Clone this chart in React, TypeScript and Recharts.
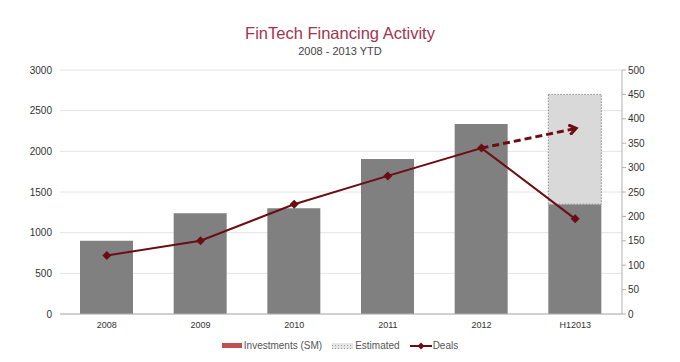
import React from 'react';
import {
  ComposedChart,
  Bar,
  Line,
  XAxis,
  YAxis,
  CartesianGrid,
} from 'recharts';

const PERIODS = ['2008', '2009', '2010', '2011', '2012', 'H12013'];
const INVESTMENTS = [900, 1240, 1300, 1905, 2335, 1350];
const ESTIMATED = [0, 0, 0, 0, 0, 1350];
const DEALS = [120, 150, 225, 283, 340, 195];
const EST_DEALS = [null, null, null, null, 340, 380];
const LEFT_TICKS = [0, 500, 1000, 1500, 2000, 2500, 3000];
const RIGHT_TICKS = [0, 50, 100, 150, 200, 250, 300, 350, 400, 450, 500];

const data = PERIODS.map((p, i) => ({
  period: p,
  investments: INVESTMENTS[i],
  estimated: ESTIMATED[i],
  deals: DEALS[i],
  estDeals: EST_DEALS[i],
}));

const FONT = '"Liberation Sans", Arial, sans-serif';
const DEAL_COLOR = '#6b0d13';

const Diamond = (props: any) => {
  const { cx, cy, index } = props;
  if (cx == null || cy == null) return <g key={`d-${index}`} />;
  const s = 4.5;
  return (
    <path
      key={`d-${index}`}
      d={`M${cx},${cy - s} L${cx + s},${cy} L${cx},${cy + s} L${cx - s},${cy} Z`}
      fill={DEAL_COLOR}
    />
  );
};

const App: React.FC = () => {
  return (
    <div style={{ position: 'absolute', left: 0, top: 0, width: 680, height: 362, background: '#fff', fontFamily: FONT }}>
      <svg width={0} height={0} style={{ position: 'absolute' }}>
        <defs>
          <marker id="arrowHead" markerWidth="12" markerHeight="12" refX="7" refY="6" orient="auto" markerUnits="userSpaceOnUse">
            <path d="M1,1 L8,6 L1,11" fill="none" stroke={DEAL_COLOR} strokeWidth={3} />
          </marker>
          <pattern id="dots" width="3" height="3" patternUnits="userSpaceOnUse">
            <rect width="3" height="3" fill="#e6e6e6" />
            <rect width="1" height="1" fill="#999" />
          </pattern>
        </defs>
      </svg>
      <div style={{ position: 'absolute', top: 24, width: 680, textAlign: 'center', fontSize: 16.5, color: '#a3344f' }}>
        FinTech Financing Activity
      </div>
      <div style={{ position: 'absolute', top: 45, width: 680, textAlign: 'center', fontSize: 11, color: '#444' }}>
        2008 - 2013 YTD
      </div>
      <ComposedChart
        width={680}
        height={362}
        data={data}
        margin={{ top: 70, right: 0, left: 0, bottom: 28 }}
        barSize={53}
      >
        <CartesianGrid yAxisId="left" vertical={false} stroke="#e4e4e4" />
        <XAxis
          dataKey="period"
          axisLine={{ stroke: '#b0b0b0' }}
          tickLine={false}
          height={20}
          tick={{ fontSize: 9, fill: '#333', fontFamily: FONT }}
        />
        <YAxis
          yAxisId="left"
          domain={[0, 3000]}
          ticks={LEFT_TICKS}
          width={60}
          axisLine={false}
          tickLine={false}
          tick={{ fontSize: 10, fill: '#333', fontFamily: FONT }}
        />
        <YAxis
          yAxisId="right"
          orientation="right"
          domain={[0, 500]}
          ticks={RIGHT_TICKS}
          width={58}
          axisLine={{ stroke: '#b0b0b0' }}
          tickLine={{ stroke: '#b0b0b0' }}
          tickSize={4}
          tick={{ fontSize: 10, fill: '#333', fontFamily: FONT }}
        />
        <Bar yAxisId="left" dataKey="investments" stackId="a" fill="#808080" isAnimationActive={false} />
        <Bar
          yAxisId="left"
          dataKey="estimated"
          stackId="a"
          fill="#d9d9d9"
          stroke="#8a8a8a"
          strokeDasharray="1.5 1.5"
          isAnimationActive={false}
        />
        <Line
          yAxisId="right"
          dataKey="deals"
          stroke={DEAL_COLOR}
          strokeWidth={2}
          dot={Diamond}
          activeDot={false}
          isAnimationActive={false}
        />
        <Line
          yAxisId="right"
          dataKey="estDeals"
          stroke={DEAL_COLOR}
          strokeWidth={3}
          strokeDasharray="7 4"
          dot={false}
          activeDot={false}
          markerEnd="url(#arrowHead)"
          isAnimationActive={false}
        />
      </ComposedChart>
      <div style={{ position: 'absolute', top: 340, left: 0, width: 680, display: 'flex', justifyContent: 'center', alignItems: 'center', fontSize: 10, color: '#555', gap: 10 }}>
        <span style={{ display: 'flex', alignItems: 'center' }}>
          <span style={{ display: 'inline-block', width: 20, height: 5, background: '#c0504d', marginRight: 2 }} />
          Investments (SM)
        </span>
        <span style={{ display: 'flex', alignItems: 'center' }}>
          <svg width={22} height={8} style={{ marginRight: 1 }}>
            <rect x={0} y={1} width={21} height={6} fill="url(#dots)" />
          </svg>
          Estimated
        </span>
        <span style={{ display: 'flex', alignItems: 'center' }}>
          <svg width={22} height={10} style={{ marginRight: 1 }}>
            <line x1={0} y1={5} x2={22} y2={5} stroke={DEAL_COLOR} strokeWidth={2} />
            <path d="M11,1.5 L14.5,5 L11,8.5 L7.5,5 Z" fill={DEAL_COLOR} />
          </svg>
          Deals
        </span>
      </div>
    </div>
  );
};

export default App;
